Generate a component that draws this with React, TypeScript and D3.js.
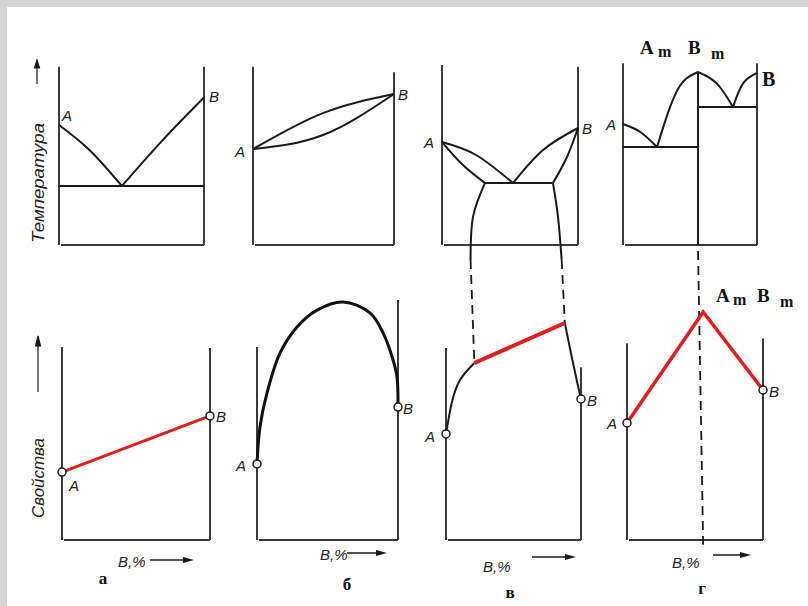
import React from 'react';
import * as d3 from 'd3';

// ---------- DATA (composition %B, temperature / property in relative units) ----------
// Top row: phase diagrams (temperature)
const aTopLiqA = [[0, 66.7], [21, 52.8], [43.4, 32.8]];
const aTopLiqB = [[43.4, 32.8], [71.5, 58.3], [100, 82]];
const aTopEut = [[0, 32.8], [100, 32.8]];

const bTopLiq = [[0, 53.3], [49.6, 73.3], [100, 83.9]];
const bTopSol = [[0, 53.3], [49.6, 61.1], [100, 83.9]];

const vTopLiqA = [[0, 57.2], [25, 50], [52.2, 34.4]];
const vTopSolA = [[0, 57.2], [15.4, 44.4], [31.6, 34.4]];
const vTopLiqB = [[100, 65], [74.3, 52.8], [52.2, 34.4]];
const vTopSolB = [[100, 65], [91.9, 48.9], [81.6, 34.4]];
const vTopEut = [[31.6, 34.4], [81.6, 34.4]];
const vTopSolvusA = [[31.6, 34.4], [22.8, 15.6], [21, -8.3]];
const vTopSolvusB = [[81.6, 34.4], [85.3, 15.6], [88, -8.3]];

const gCompound = 56;
const gTopC1 = [[0, 67.2], [12.9, 62.8], [25.4, 54.4]];
const gTopC2 = [[25.4, 54.4], [32.6, 71.3], [40, 85.2], [47.5, 92.6], [56, 96.1]];
const gTopC3 = [[56, 96.1], [69.9, 89.8], [82.1, 76.7]];
const gTopC4 = [[82.1, 76.7], [89.6, 89.8], [100, 95.6]];
const gTopEut1 = [[0, 54.4], [56, 54.4]];
const gTopEut2 = [[56, 76.7], [100, 76.7]];

// Bottom row: property–composition
const aBot = [[0, 28.3], [100, 51.7]];
const bBot = [[0, 31.7], [2.1, 47.1], [7.1, 61.3], [16.3, 77.9], [28.4, 88.8], [42.6, 95.8], [61, 99.2],
  [80.1, 94.6], [89.4, 86.3], [96.5, 75], [99.3, 67.9], [100, 55.4]];
const vBotLeft = [[0, 44.2], [4.2, 57], [10.4, 66.7], [21, 73.75]];
const vBotMid = [[21, 73.75], [88, 90.4]];
const vBotRight = [[88, 90.4], [93.1, 76.4], [96.8, 66.7], [100, 58.75]];
const gBot = [[0, 48.75], [gCompound, 95], [100, 62.5]];

const panelLetters = ['а', 'б', 'в', 'г'];

// ---------- LAYOUT ----------
const W = 808, H = 606;
const topY = d3.scaleLinear().domain([0, 100]).range([245, 65]);
const botY = d3.scaleLinear().domain([0, 100]).range([540, 300]);
const topXs = [[59, 204], [253, 394], [442, 578], [623, 757]].map(r => d3.scaleLinear().domain([0, 100]).range(r));
const botXs = [[62, 210], [257, 398], [446, 581], [627, 763]].map(r => d3.scaleLinear().domain([0, 100]).range(r));
// frame tops (relative units): [left, right]
const topFrames = [[99, 99], [99, 96], [100, 99], [101, 101]];
const botFrames = [[80.4, 80], [80.4, 100], [80, 72], [82, 84]];

const INK = '#1a1a1a';
const AXIS = '#3a3a3a';
const RED = '#e01e1e';

function mkLine(xs: d3.ScaleLinear<number, number>, ys: d3.ScaleLinear<number, number>, curve: any = d3.curveNatural) {
  return d3.line<number[]>().x(d => xs(d[0])).y(d => ys(d[1])).curve(curve);
}

const italic = { fontFamily: 'Liberation Sans, Arial, sans-serif', fontStyle: 'italic' as const, fill: '#222' };
const serifB = { fontFamily: 'Liberation Serif, Times New Roman, serif', fontWeight: 'bold' as const, fill: '#111' };

function Frame({ xs, ys, tops }: any) {
  const x0 = xs(0), x1 = xs(100), y0 = ys(0);
  return (
    <g stroke={AXIS} strokeWidth={2} fill="none">
      <line x1={x0} x2={x0} y1={ys(tops[0])} y2={y0} />
      <line x1={x1} x2={x1} y1={ys(tops[1])} y2={y0} />
      <line x1={x0 + 2} x2={x1} y1={y0} y2={y0} />
    </g>
  );
}

function Arrow({ x1, x2, y }: any) {
  return (
    <g>
      <line x1={x1} x2={x2 - 8} y1={y} y2={y} stroke={INK} strokeWidth={1.5} />
      <path d={`M${x2},${y} L${x2 - 11},${y - 3} L${x2 - 11},${y + 3} Z`} fill={INK} />
    </g>
  );
}

export default function App() {
  const T = topXs, B = botXs;
  const curveP = (pts: number[][], xs: any, ys: any, curve?: any) => mkLine(xs, ys, curve)(pts) || '';
  const circ = (xs: any, ys: any, p: number[]) => (
    <circle cx={xs(p[0])} cy={ys(p[1])} r={4} fill="#fff" stroke={INK} strokeWidth={1.5} />
  );

  const vDashL = [T[2](vTopSolvusA[2][0]), topY(vTopSolvusA[2][1]), B[2](vBotMid[0][0]), botY(vBotMid[0][1])];
  const vDashR = [T[2](vTopSolvusB[2][0]), topY(vTopSolvusB[2][1]), B[2](vBotMid[1][0]), botY(vBotMid[1][1])];
  const gDash = [T[3](gCompound), topY(0), B[3](gCompound), botY(-2)];

  return (
    <svg width={W} height={H} style={{ position: 'absolute', left: 0, top: 0, background: '#fff' }}>
      <rect x={0} y={0} width={W} height={7} fill="#d4d4d4" />
      <rect x={0} y={0} width={7} height={H} fill="#d4d4d4" />

      {T.map((xs, i) => <Frame key={'ft' + i} xs={xs} ys={topY} tops={topFrames[i]} />)}
      {B.map((xs, i) => <Frame key={'fb' + i} xs={xs} ys={botY} tops={botFrames[i]} />)}

      <g stroke={INK} strokeWidth={2} fill="none">
        <path d={curveP(aTopLiqA, T[0], topY)} />
        <path d={curveP(aTopLiqB, T[0], topY)} />
        <path d={curveP(aTopEut, T[0], topY, d3.curveLinear)} />

        <path d={curveP(bTopLiq, T[1], topY)} />
        <path d={curveP(bTopSol, T[1], topY)} />

        <path d={curveP(vTopLiqA, T[2], topY)} />
        <path d={curveP(vTopSolA, T[2], topY)} />
        <path d={curveP(vTopLiqB, T[2], topY)} />
        <path d={curveP(vTopSolB, T[2], topY)} />
        <path d={curveP(vTopEut, T[2], topY, d3.curveLinear)} />
        <path d={curveP(vTopSolvusA, T[2], topY)} />
        <path d={curveP(vTopSolvusB, T[2], topY)} />

        <path d={curveP(gTopC1, T[3], topY)} />
        <path d={curveP(gTopC2, T[3], topY)} />
        <path d={curveP(gTopC3, T[3], topY)} />
        <path d={curveP(gTopC4, T[3], topY)} />
        <path d={curveP(gTopEut1, T[3], topY, d3.curveLinear)} />
        <path d={curveP(gTopEut2, T[3], topY, d3.curveLinear)} />
        <line x1={T[3](gCompound)} x2={T[3](gCompound)} y1={topY(gTopC2[gTopC2.length - 1][1])} y2={topY(0)} />
      </g>

      <g stroke={INK} strokeWidth={1.8} strokeDasharray="9,6" fill="none">
        <line x1={vDashL[0]} y1={vDashL[1]} x2={vDashL[2]} y2={vDashL[3]} />
        <line x1={vDashR[0]} y1={vDashR[1]} x2={vDashR[2]} y2={vDashR[3]} />
        <line x1={gDash[0]} y1={gDash[1] + 6} x2={gDash[2]} y2={gDash[3]} />
      </g>

      <path d={curveP(aBot, B[0], botY, d3.curveLinear)} stroke={RED} strokeWidth={3} fill="none" />
      <path d={curveP(bBot, B[1], botY, d3.curveCatmullRom.alpha(0.5))} stroke="#111" strokeWidth={3} fill="none" />
      <path d={curveP(vBotLeft, B[2], botY)} stroke={INK} strokeWidth={2} fill="none" />
      <path d={curveP(vBotRight, B[2], botY)} stroke={INK} strokeWidth={2} fill="none" />
      <path d={curveP(vBotMid, B[2], botY, d3.curveLinear)} stroke={RED} strokeWidth={4} fill="none" />
      <path d={curveP(gBot, B[3], botY, d3.curveLinear)} stroke={RED} strokeWidth={3.5} fill="none" />

      {circ(B[0], botY, aBot[0])}{circ(B[0], botY, aBot[1])}
      {circ(B[1], botY, bBot[0])}{circ(B[1], botY, bBot[bBot.length - 1])}
      {circ(B[2], botY, vBotLeft[0])}{circ(B[2], botY, vBotRight[vBotRight.length - 1])}
      {circ(B[3], botY, gBot[0])}{circ(B[3], botY, gBot[2])}

      <g style={italic} fontSize={15}>
        <text x={T[0](0) + 3} y={topY(aTopLiqA[0][1]) - 4}>A</text>
        <text x={T[0](100) + 5} y={topY(aTopLiqB[2][1]) + 5}>B</text>
        <text x={T[1](0) - 18} y={topY(bTopLiq[0][1]) + 8}>A</text>
        <text x={T[1](100) + 4} y={topY(bTopLiq[2][1]) + 6}>B</text>
        <text x={T[2](0) - 18} y={topY(vTopLiqA[0][1]) + 6}>A</text>
        <text x={T[2](100) + 4} y={topY(vTopLiqB[0][1]) + 6}>B</text>
        <text x={T[3](0) - 17} y={topY(gTopC1[0][1]) + 6}>A</text>
      </g>
      <text x={T[3](100) + 5} y={topY(gTopC4[2][1]) + 13} style={serifB} fontSize={20}>B</text>

      <g style={italic} fontSize={15}>
        <text x={B[0](0) + 7} y={botY(aBot[0][1]) + 19}>A</text>
        <text x={B[0](100) + 6} y={botY(aBot[1][1]) + 6}>B</text>
        <text x={B[1](0) - 21} y={botY(bBot[0][1]) + 7}>A</text>
        <text x={B[1](100) + 5} y={botY(bBot[bBot.length - 1][1]) + 7}>B</text>
        <text x={B[2](0) - 21} y={botY(vBotLeft[0][1]) + 8}>A</text>
        <text x={B[2](100) + 6} y={botY(vBotRight[vBotRight.length - 1][1]) + 7}>B</text>
        <text x={B[3](0) - 20} y={botY(gBot[0][1]) + 6}>A</text>
        <text x={B[3](100) + 6} y={botY(gBot[2][1]) + 7}>B</text>
      </g>

      <text style={serifB} fontSize={19} y={54}>
        <tspan x={640}>A</tspan>
        <tspan x={658} dy={3} fontSize={16}>m</tspan>
        <tspan x={688} dy={-3}>B</tspan>
        <tspan x={711} dy={5} fontSize={16}>m</tspan>
      </text>
      <text style={serifB} fontSize={19} y={302}>
        <tspan x={716}>A</tspan>
        <tspan x={733} dy={3} fontSize={16}>m</tspan>
        <tspan x={757} dy={-3}>B</tspan>
        <tspan x={780} dy={5} fontSize={16}>m</tspan>
      </text>

      <text transform="translate(44,183) rotate(-90)" textAnchor="middle" style={italic} fontSize={16}
        textLength={120} lengthAdjust="spacingAndGlyphs" fill="#555">Температура</text>
      <text transform="translate(44,478) rotate(-90)" textAnchor="middle" style={italic} fontSize={17}
        textLength={80} lengthAdjust="spacingAndGlyphs" fill="#555">Свойства</text>
      <g stroke={INK} strokeWidth={1.2}>
        <line x1={37} x2={37} y1={84} y2={64} />
        <path d="M37,60 L34.5,68 L39.5,68 Z" fill={INK} />
        <line x1={38} x2={38} y1={392} y2={340} />
        <path d="M38,336 L35.5,346 L40.5,346 Z" fill={INK} />
      </g>

      {[[118, 567, 150, 194, 560], [320, 560, 347, 387, 553], [483, 572, 532, 576, 557], [672, 568, 713, 751, 555]].map((r, i) => (
        <g key={'xl' + i}>
          <text x={r[0]} y={r[1]} style={italic} fontSize={15}>B,%</text>
          <Arrow x1={r[2]} x2={r[3]} y={r[4]} />
        </g>
      ))}
      {[[103, 584], [347, 590], [510, 598], [702, 594]].map((p, i) => (
        <text key={'pl' + i} x={p[0]} y={p[1]} textAnchor="middle" style={serifB} fontSize={17}>{panelLetters[i]}</text>
      ))}
    </svg>
  );
}
